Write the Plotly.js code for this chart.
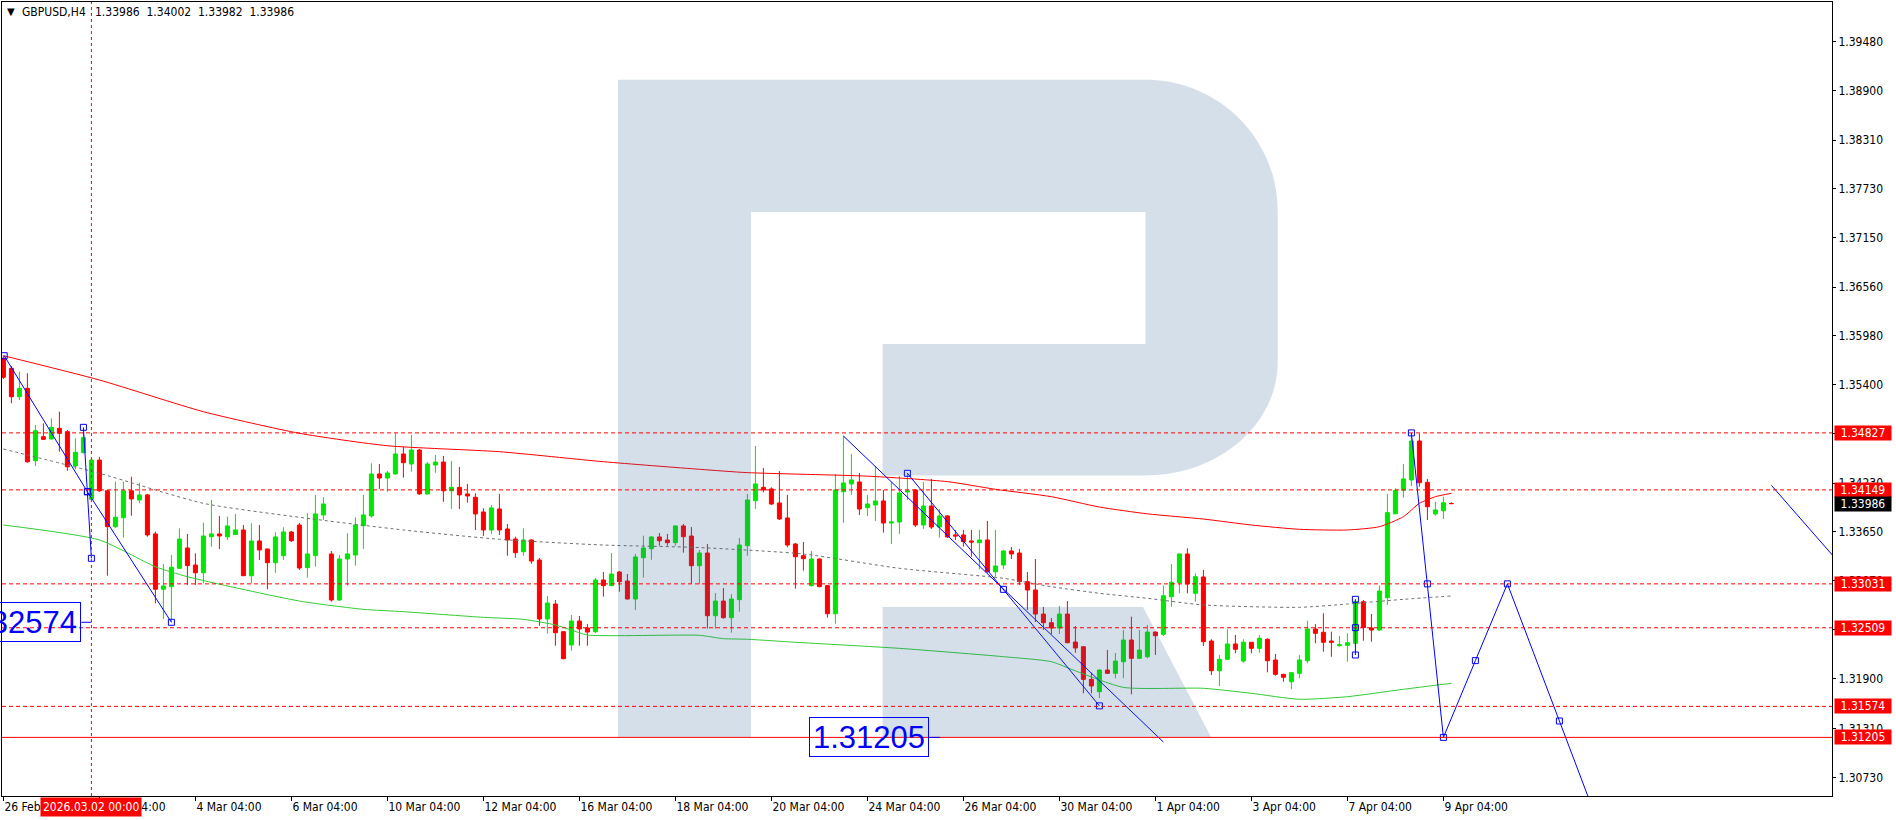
<!DOCTYPE html>
<html><head><meta charset="utf-8">
<script src="https://cdn.plot.ly/plotly-3.0.1.min.js"></script>
<style>html,body{margin:0;padding:0;background:#fff;}#chart{width:1896px;height:820px;}</style>
</head><body><div id="chart"></div>
<script>
// ---------- DATA (GBPUSD H4, bar 0 = 26 Feb 04:00) ----------
const open = [1.35714,1.35595,1.35257,1.35357,1.34496,1.34781,1.34754,1.34881,1.34841,1.34433,
1.34591,1.34037,1.34503,1.34138,1.33711,1.33818,1.34138,1.34029,1.34089,1.33625,
1.32967,1.32997,1.33216,1.33458,1.33255,1.33163,1.33592,1.33625,1.33592,1.33617,
1.33672,1.33128,1.33541,1.33446,1.33283,1.33366,1.33648,1.33731,1.33224,1.33367,
1.33851,1.33387,1.32839,1.33327,1.33374,1.33723,1.33839,1.34338,1.34290,1.34338,
1.34576,1.34457,1.34623,1.34101,1.34445,1.34480,1.34138,1.34179,1.34101,1.34061,
1.33886,1.33672,1.33922,1.33684,1.33565,1.33414,1.33553,1.33315,1.32613,1.32791,
1.32462,1.32304,1.32589,1.32506,1.32462,1.33077,1.33010,1.33172,1.33065,1.32851,
1.33342,1.33449,1.33589,1.33553,1.33521,1.33720,1.33600,1.33247,1.33398,1.32652,
1.32827,1.32629,1.32843,1.33485,1.34021,1.34179,1.34160,1.33993,1.33815,1.33505,
1.33366,1.33010,1.33327,1.33010,1.32676,1.34127,1.34220,1.34243,1.33937,1.33969,
1.34017,1.33755,1.33767,1.34124,1.34148,1.33731,1.33957,1.33707,1.33839,1.33613,
1.33613,1.33541,1.33521,1.33553,1.33175,1.33255,1.33422,1.33398,1.33057,1.32958,
1.32672,1.32569,1.32506,1.32672,1.32339,1.32283,1.31895,1.31748,1.32006,1.31967,
1.32105,1.32363,1.32145,1.32164,1.32458,1.32431,1.32878,1.33045,1.33387,1.32919,
1.33113,1.32351,1.31998,1.32133,1.32316,1.32113,1.32336,1.32264,1.32372,1.32125,
1.31955,1.31867,1.31967,1.32117,1.32494,1.32455,1.32351,1.32296,1.32300,1.32324,
1.32819,1.32506,1.32482,1.32867,1.33865,1.34144,1.34267,1.34730,1.34239,1.33863,
1.33901,1.33986];
const high = [1.35745,1.35623,1.35555,1.35536,1.34921,1.34941,1.35000,1.35079,1.34861,1.34762,
1.34881,1.34523,1.34542,1.34148,1.34247,1.34247,1.34306,1.34235,1.34101,1.33652,
1.33267,1.33374,1.33691,1.33625,1.33394,1.33758,1.34029,1.33839,1.33831,1.33863,
1.33731,1.33751,1.33731,1.33450,1.33645,1.33704,1.33660,1.33755,1.33871,1.34089,
1.34061,1.33422,1.33374,1.33633,1.33823,1.34089,1.34465,1.34457,1.34374,1.34822,
1.34663,1.34802,1.34635,1.34480,1.34564,1.34552,1.34492,1.34421,1.34220,1.34108,
1.33930,1.33969,1.34101,1.33743,1.33592,1.33691,1.33560,1.33339,1.32887,1.32839,
1.32470,1.32661,1.32649,1.32553,1.33101,1.33172,1.33398,1.33184,1.33148,1.33387,
1.33604,1.33595,1.33636,1.33625,1.33725,1.33743,1.33707,1.33434,1.33505,1.32922,
1.32982,1.32910,1.33577,1.34101,1.34671,1.34409,1.34179,1.34374,1.34089,1.33517,
1.33529,1.33422,1.33335,1.33015,1.34338,1.34790,1.34576,1.34350,1.34089,1.34433,
1.34148,1.34243,1.34314,1.34350,1.34160,1.34243,1.34279,1.33922,1.33850,1.33672,
1.33672,1.33672,1.33672,1.33779,1.33672,1.33434,1.33469,1.33446,1.33172,1.33327,
1.32756,1.32625,1.32768,1.32827,1.32530,1.32290,1.31974,1.32015,1.32244,1.32209,
1.32482,1.32641,1.32482,1.32542,1.32465,1.33010,1.33267,1.33390,1.33454,1.33157,
1.33196,1.32372,1.32185,1.32490,1.32423,1.32372,1.32340,1.32423,1.32384,1.32197,
1.31960,1.31980,1.32185,1.32593,1.32553,1.32681,1.32462,1.32411,1.32443,1.32847,
1.32839,1.32672,1.33010,1.34101,1.34168,1.34457,1.34827,1.34820,1.34279,1.34008,
1.34068,1.34002];
const low = [1.35468,1.35179,1.35218,1.34471,1.34433,1.34742,1.34750,1.34603,1.34377,1.34394,
1.34584,1.34029,1.34126,1.33128,1.33696,1.33580,1.33842,1.33990,1.33592,1.32800,
1.32613,1.32574,1.33208,1.33018,1.33018,1.33037,1.33473,1.33446,1.33553,1.33613,
1.33124,1.33037,1.33315,1.32967,1.33163,1.33315,1.33529,1.33196,1.33105,1.33236,
1.33791,1.32819,1.32827,1.33010,1.33247,1.33446,1.33818,1.34160,1.34127,1.34330,
1.34294,1.34365,1.34089,1.34089,1.34353,1.34007,1.33922,1.33922,1.33997,1.33672,
1.33601,1.33625,1.33613,1.33366,1.33342,1.33366,1.33271,1.32533,1.32438,1.32295,
1.32135,1.32236,1.32295,1.32295,1.32446,1.32879,1.33005,1.32938,1.32845,1.32720,
1.33105,1.33318,1.33485,1.33485,1.33485,1.33402,1.33033,1.33026,1.32498,1.32498,
1.32617,1.32450,1.32700,1.33366,1.33922,1.34120,1.33969,1.33791,1.33466,1.32974,
1.33188,1.32998,1.32990,1.32629,1.32557,1.33758,1.34089,1.33850,1.33838,1.33779,
1.33640,1.33505,1.33625,1.34029,1.33707,1.33684,1.33684,1.33580,1.33577,1.33553,
1.33473,1.33354,1.33204,1.33163,1.33116,1.33208,1.33327,1.33018,1.32720,1.32577,
1.32482,1.32434,1.32434,1.32324,1.32212,1.31729,1.31729,1.31673,1.31960,1.31908,
1.31908,1.31717,1.32140,1.32145,1.32185,1.32411,1.32759,1.32919,1.32919,1.32819,
1.32292,1.31947,1.31816,1.32125,1.32205,1.32093,1.32205,1.32212,1.31979,1.31939,
1.31867,1.31777,1.31908,1.32086,1.32324,1.32224,1.32164,1.32283,1.32105,1.32304,
1.32355,1.32343,1.32470,1.32780,1.33860,1.34056,1.34195,1.34187,1.33791,1.33842,
1.33803,1.33982];
const close = [1.35488,1.35257,1.35357,1.34483,1.34853,1.34750,1.34893,1.34822,1.34424,1.34596,
1.34770,1.34503,1.34138,1.33711,1.33823,1.34138,1.34041,1.34089,1.33613,1.32967,
1.33006,1.33228,1.33564,1.33248,1.33163,1.33600,1.33625,1.33601,1.33720,1.33672,
1.33128,1.33541,1.33434,1.33283,1.33589,1.33648,1.33544,1.33220,1.33387,1.33863,
1.33981,1.32839,1.33327,1.33387,1.33731,1.33851,1.34338,1.34290,1.34350,1.34576,
1.34472,1.34623,1.34101,1.34457,1.34480,1.34138,1.34179,1.34089,1.34077,1.33863,
1.33672,1.33934,1.33672,1.33553,1.33402,1.33553,1.33303,1.32613,1.32803,1.32450,
1.32141,1.32589,1.32494,1.32458,1.33077,1.33010,1.33148,1.33057,1.32851,1.33351,
1.33458,1.33589,1.33544,1.33521,1.33720,1.33592,1.33247,1.33398,1.32652,1.32827,
1.32629,1.32851,1.33493,1.34029,1.34220,1.34148,1.33981,1.33803,1.33493,1.33354,
1.33331,1.33327,1.32998,1.32676,1.34148,1.34231,1.34267,1.33922,1.33981,1.34017,
1.33755,1.33767,1.34112,1.34138,1.33731,1.33957,1.33707,1.33839,1.33589,1.33601,
1.33533,1.33529,1.33553,1.33175,1.33243,1.33422,1.33387,1.33057,1.32958,1.32672,
1.32569,1.32506,1.32672,1.32331,1.32268,1.31895,1.31816,1.32006,1.31967,1.32113,
1.32363,1.32145,1.32244,1.32458,1.32414,1.32890,1.33050,1.33387,1.33030,1.33116,
1.32343,1.31998,1.32133,1.32316,1.32253,1.32336,1.32264,1.32384,1.32117,1.31955,
1.31920,1.31974,1.32125,1.32494,1.32443,1.32336,1.32336,1.32307,1.32331,1.32819,
1.32510,1.32482,1.32946,1.33878,1.34144,1.34279,1.34730,1.34234,1.33949,1.33910,
1.33996,1.33986];

const tickBars = [0,12,24,36,48,60,72,84,96,108,120,132,144,156,168,180];
const tickLabels = ["26 Feb 04:00","2 Mar 04:00","4 Mar 04:00","6 Mar 04:00","10 Mar 04:00","12 Mar 04:00",
"16 Mar 04:00","18 Mar 04:00","20 Mar 04:00","24 Mar 04:00","26 Mar 04:00","30 Mar 04:00",
"1 Apr 04:00","3 Apr 04:00","7 Apr 04:00","9 Apr 04:00"];
const priceTicks = [1.39480,1.38900,1.38310,1.37730,1.37150,1.36560,1.35980,1.35400,1.34820,1.34230,
1.33650,1.33070,1.32490,1.31900,1.31310,1.30730];

const maRedX = [0,12,25,37,48,62,75,87,93,108,118,124,131,137,143,150,156,162,168,172,175,177,179,181];
const maRedY = [1.35745,1.35456,1.35079,1.34822,1.34674,1.34603,1.34484,1.34394,1.34354,1.34312,1.34247,
1.34156,1.34068,1.33945,1.33864,1.33802,1.33731,1.33680,1.33672,1.33711,1.33830,1.33989,1.34068,1.34108];
const maGreyX = [0,12,25,37,50,62,75,87,100,112,125,131,137,143,150,162,168,175,181];
const maGreyY = [1.34635,1.34346,1.33989,1.33823,1.33672,1.33561,1.33493,1.33463,1.33386,1.33216,1.33097,
1.32997,1.32919,1.32859,1.32780,1.32752,1.32791,1.32847,1.32887];
const maGreenX = [0,12,19,23,37,45,50,60,65,69,71,73,87,90,93,99,112,125,131,134,140,150,156,162,168,175,181];
const maGreenY = [1.33731,1.33553,1.33235,1.33116,1.32827,1.32728,1.32700,1.32633,1.32609,1.32542,1.32482,
1.32423,1.32419,1.32379,1.32372,1.32336,1.32264,1.32165,1.32105,1.31996,1.31800,1.31789,1.31729,1.31658,
1.31689,1.31777,1.31848];

const levelsDashed = [1.34827,1.34149,1.33031,1.32509,1.31574];
const levelSolid = 1.31205;
const bidPrice = 1.33986;
const ohlcHeader = "1.33986  1.34002  1.33982  1.33986";
const cursorBar = 11;
const cursorLabel = "2026.03.02 00:00";

const waveAX = [0.1,10.5,21], waveAY = [1.35745,1.34127,1.32574];
const waveBX = [10,10.5,11], waveBY = [1.34893,1.34127,1.33335];
const waveCX = [105,145], waveCY = [1.34790,1.31150];
const waveDX = [113,125,137], waveDY = [1.34346,1.32966,1.31580];
const waveEX = [169,169,169], waveEY = [1.32847,1.32510,1.32185];
const fcX = [176,178,180,184,188,194.5,199], fcY = [1.34827,1.33031,1.31205,1.32118,1.33031,1.31400,1.30270];
const waveGX = [221,229.5], waveGY = [1.34203,1.33278];
const bigLabels = [{v:1.32574, right:9.74, stub:11}, {v:1.31205, right:115.74, stub:117.08}];

// ---------- STYLE ----------
const FONT = "DejaVu Sans Condensed, DejaVu Sans, sans-serif";
const FS = 12;
const GREEN = "#00e600", RED = "#ff0000", BLUE = "#0000ff";
const bars = open.map((_, k) => k);

const px = x => (x - 2) / 1830;      // page px -> paper x
const py = y => (796 - y) / 794;     // page px -> paper y
const P = (x, y) => px(x).toFixed(5) + "," + py(y).toFixed(5);

const logoMain = "M" + P(618,79.8) + " L" + P(1145.5,79.8) +
  " C" + P(1218.5,79.8) + " " + P(1277.7,138.5) + " " + P(1277.7,211) +
  " L" + P(1277.7,362) +
  " C" + P(1277.7,424.7) + " " + P(1218.5,475.5) + " " + P(1145.5,475.5) +
  " L" + P(882.6,475.5) + " L" + P(882.6,344) + " L" + P(1145.5,344) + " L" + P(1145.5,212) +
  " L" + P(751,212) + " L" + P(751,737) + " L" + P(618,737) + " Z";
const logoLeg = "M" + P(882.6,607) + " L" + P(1143,607) + " L" + P(1211,737) + " L" + P(882.6,737) + " Z";
const LOGO = "rgba(49,98,152,0.204)";

const blueLine = (x, y, withMarkers, markerOpacity) => ({
  type: "scatter", x: x, y: y, mode: withMarkers ? "lines+markers" : "lines",
  line: {color: BLUE, width: 1},
  marker: {symbol: "square-open", size: 6, color: BLUE, line: {width: 1, color: BLUE}, opacity: markerOpacity || 1},
  hoverinfo: "skip", showlegend: false
});

const data = [
  {type: "candlestick", x: bars, open: open, high: high, low: low, close: close,
   increasing: {line: {color: GREEN, width: 1}, fillcolor: GREEN},
   decreasing: {line: {color: RED, width: 1}, fillcolor: RED},
   whiskerwidth: 0, hoverinfo: "skip", showlegend: false},
  {type: "scatter", mode: "lines", x: maRedX, y: maRedY, line: {color: RED, width: 1, shape: "spline", smoothing: 0.6}, hoverinfo: "skip", showlegend: false},
  {type: "scatter", mode: "lines", x: maGreyX, y: maGreyY, line: {color: "#707070", width: 1, dash: "3px,3px", shape: "spline", smoothing: 0.6}, hoverinfo: "skip", showlegend: false},
  {type: "scatter", mode: "lines", x: maGreenX, y: maGreenY, line: {color: "#32cd32", width: 1, shape: "spline", smoothing: 0.6}, hoverinfo: "skip", showlegend: false},
  blueLine(waveAX, waveAY, true),
  blueLine(waveBX, waveBY, true),
  blueLine(waveCX, waveCY, false),
  blueLine(waveDX, waveDY, true),
  blueLine(waveEX, waveEY, true),
  blueLine(fcX, fcY, true, fcY.map((_, k) => k === fcY.length - 1 ? 0 : 1)),
  blueLine(waveGX, waveGY, false)
];

const shapes = [
  {type: "path", xref: "paper", yref: "paper", path: logoMain, fillcolor: LOGO, line: {width: 0}, layer: "above"},
  {type: "path", xref: "paper", yref: "paper", path: logoLeg, fillcolor: LOGO, line: {width: 0}, layer: "above"}
];
levelsDashed.forEach(v => shapes.push({type: "line", xref: "paper", x0: 0, x1: 1, yref: "y", y0: v, y1: v,
  line: {color: RED, width: 1, dash: "4px,3px"}, layer: "above"}));
shapes.push({type: "line", xref: "paper", x0: 0, x1: 1, yref: "y", y0: levelSolid, y1: levelSolid,
  line: {color: RED, width: 1}, layer: "above"});
shapes.push({type: "line", xref: "x", x0: cursorBar, x1: cursorBar, yref: "paper", y0: 0, y1: 1,
  line: {color: RED, width: 1, dash: "3px,3px"}, layer: "above"});
bigLabels.forEach(b => shapes.push({type: "line", xref: "x", x0: b.right, x1: b.stub, yref: "y", y0: b.v, y1: b.v,
  line: {color: BLUE, width: 1}, layer: "above"}));

const annotations = [];
// price labels on the right axis
[...levelsDashed, levelSolid].forEach(v => annotations.push({
  xref: "paper", x: 1, xanchor: "left", xshift: 2, yref: "y", y: v, yanchor: "middle",
  text: v.toFixed(5), showarrow: false, bgcolor: RED, borderpad: 1, width: 54, height: 12,
  font: {family: FONT, size: FS, color: "#ffffff"}
}));
annotations.push({
  xref: "paper", x: 1, xanchor: "left", xshift: 2, yref: "y", y: bidPrice, yanchor: "middle",
  text: bidPrice.toFixed(5), showarrow: false, bgcolor: "#000000", borderpad: 1, width: 54, height: 12,
  font: {family: FONT, size: FS, color: "#ffffff"}
});
// cursor date label
annotations.push({
  xref: "x", x: cursorBar, xanchor: "center", yref: "paper", y: 0, yanchor: "top", yshift: -1,
  text: cursorLabel, showarrow: false, bgcolor: RED, borderpad: 2,
  font: {family: FONT, size: FS, color: "#ffffff"}
});
// big blue price labels
bigLabels.forEach(b => annotations.push({
  xref: "x", x: b.right, xanchor: "right", yref: "y", y: b.v, yanchor: "middle",
  text: b.v.toFixed(5), showarrow: false, bordercolor: BLUE, borderwidth: 1, borderpad: 0, width: 118, height: 38,
  font: {family: "Liberation Sans, Arial, sans-serif", size: 31, color: BLUE}
}));
// header
annotations.push({xref: "paper", x: px(10.5), xanchor: "center", yref: "paper", y: py(12), yanchor: "middle",
  text: "▼", showarrow: false, font: {family: "DejaVu Sans, sans-serif", size: 10, color: "#000"}});
annotations.push({xref: "paper", x: px(19.7), xanchor: "left", yref: "paper", y: py(12), yanchor: "middle",
  text: "GBPUSD,H4", showarrow: false, font: {family: FONT, size: FS, color: "#000"}});
annotations.push({xref: "paper", x: px(93.3), xanchor: "left", yref: "paper", y: py(12), yanchor: "middle",
  text: ohlcHeader, showarrow: false, font: {family: FONT, size: FS, color: "#000"}});

const layout = {
  width: 1896, height: 820,
  margin: {l: 2, r: 64, t: 2, b: 24, pad: 0},
  paper_bgcolor: "#ffffff", plot_bgcolor: "#ffffff",
  showlegend: false, boxgap: 0.5, boxgroupgap: 0,
  xaxis: {
    type: "linear", range: [-0.175, 228.575], fixedrange: true,
    showgrid: false, zeroline: false, showline: true, linecolor: "#000", linewidth: 1, mirror: true,
    ticks: "outside", ticklen: 4, tickcolor: "#000", tickwidth: 1,
    tickmode: "array", tickvals: tickBars, ticktext: tickLabels,
    ticklabelposition: "outside right",
    tickfont: {family: FONT, size: FS, color: "#000"},
    rangeslider: {visible: false}
  },
  yaxis: {
    side: "right", range: [1.305077, 1.399522], fixedrange: true,
    showgrid: false, zeroline: false, showline: true, linecolor: "#000", linewidth: 1, mirror: true,
    ticks: "outside", ticklen: 3, tickcolor: "#000", tickwidth: 1,
    tickmode: "array", tickvals: priceTicks, ticktext: priceTicks.map(v => v.toFixed(5)),
    tickfont: {family: FONT, size: FS, color: "#000"}
  },
  shapes: shapes,
  annotations: annotations
};

Plotly.newPlot("chart", data, layout, {staticPlot: true, displayModeBar: false});
</script>
</body></html>
